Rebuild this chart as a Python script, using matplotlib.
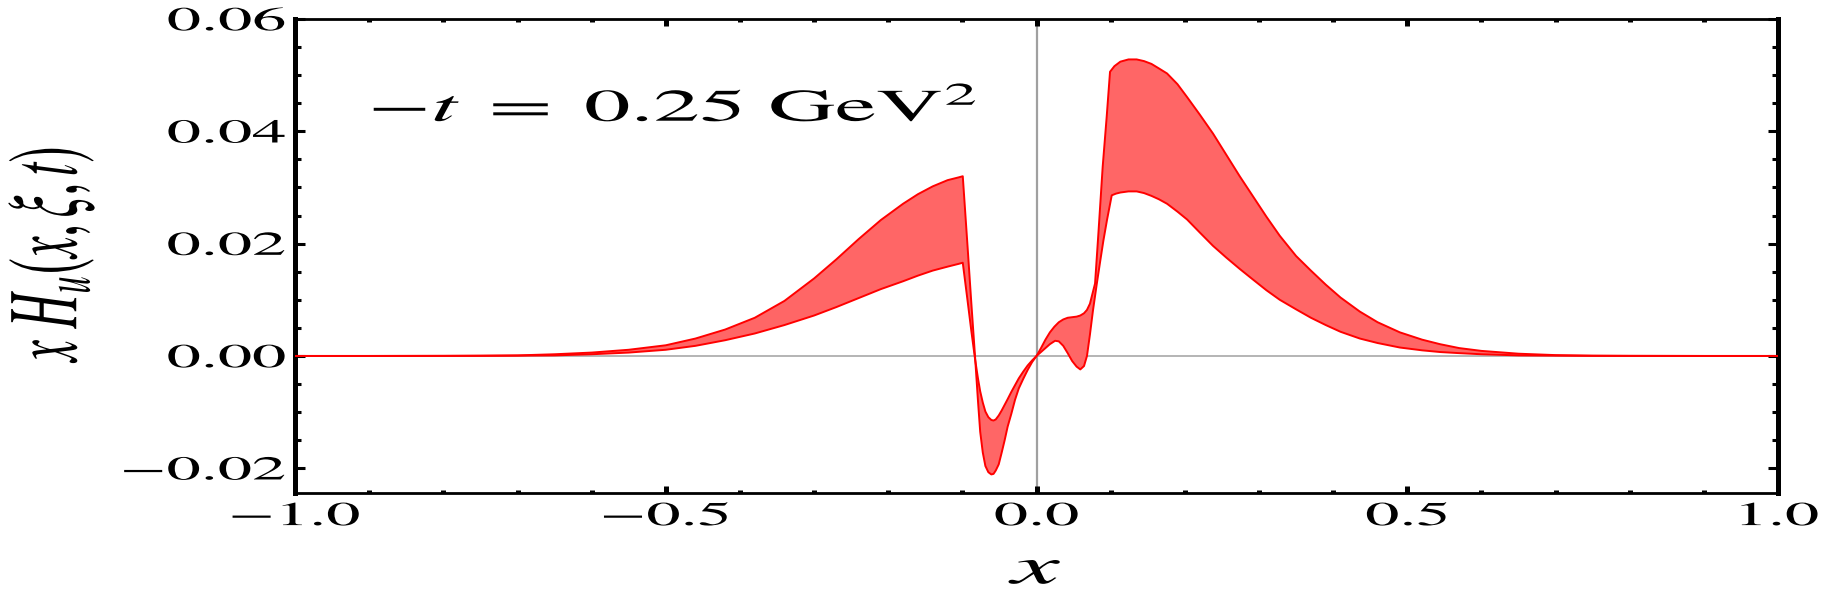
import numpy as np
import matplotlib
matplotlib.use("Agg")
import matplotlib.pyplot as plt
from matplotlib.patheffects import AbstractPathEffect
from matplotlib.transforms import Affine2D
from matplotlib.ticker import MultipleLocator

# band of x*H_u(x, xi, t) at -t = 0.25 GeV^2, its two edges
# edge A: upper edge at x ~ -0.1, deeper trough, upper edge at x ~ +0.13
xa = [-1.0, -0.9, -0.8, -0.75, -0.70, -0.65, -0.60, -0.55, -0.50, -0.46,
      -0.42, -0.38, -0.34, -0.30, -0.27, -0.24, -0.21, -0.18, -0.16, -0.14,
      -0.12, -0.105, -0.0995, -0.093, -0.088, -0.083, -0.079, -0.076, -0.0725, -0.069,
      -0.065, -0.061, -0.058, -0.055, -0.051, -0.047, -0.043, -0.039, -0.034, -0.029,
      -0.024, -0.018, -0.012, -0.006, 0.0, 0.006, 0.012, 0.018, 0.024, 0.030,
      0.036, 0.042, 0.048, 0.054, 0.059, 0.064, 0.068, 0.072, 0.0789, 0.0834,
      0.0892, 0.0946, 0.0991, 0.105, 0.113, 0.124, 0.135, 0.145, 0.155, 0.165,
      0.176, 0.19, 0.203, 0.22, 0.238, 0.256, 0.274, 0.29, 0.31, 0.328,
      0.35, 0.37, 0.39, 0.41, 0.436, 0.46, 0.49, 0.52, 0.544, 0.57,
      0.60, 0.65, 0.70, 0.75, 0.8, 0.9, 1.0]
ya = [0.0, 0.0, 0.00002, 0.00005, 0.0001, 0.0003, 0.0006, 0.0011, 0.0019, 0.0031,
      0.0047, 0.0068, 0.0098, 0.0138, 0.0172, 0.0208, 0.0242, 0.0271, 0.0288, 0.0302,
      0.0313, 0.0318, 0.0320, 0.0194, 0.0095, 0.0, -0.0080, -0.0135, -0.0172, -0.0196,
      -0.0207, -0.0211, -0.0210, -0.0204, -0.0193, -0.0172, -0.0150, -0.0126, -0.0103, -0.0078,
      -0.0058, -0.0041, -0.0025, -0.0011, 0.0, 0.0014, 0.0029, 0.0042, 0.0052, 0.0060,
      0.0065, 0.0068, 0.0069, 0.0070, 0.0072, 0.0076, 0.0082, 0.0093, 0.0129, 0.0218,
      0.0337, 0.0426, 0.0506, 0.0516, 0.0524, 0.0528, 0.0528, 0.0525, 0.0520, 0.0512,
      0.0503, 0.0484, 0.0461, 0.0430, 0.0396, 0.0358, 0.0320, 0.0288, 0.0248, 0.0214,
      0.0178, 0.0152, 0.0127, 0.0104, 0.0079, 0.0060, 0.0042, 0.0029, 0.0021, 0.0014,
      0.0009, 0.0004, 0.00015, 0.00005, 0.00002, 0.0, 0.0]

# edge B: lower edge at x ~ -0.1, shallow trough, small dip near 0.06, lower edge at +0.13
xb = [-1.0, -0.9, -0.8, -0.75, -0.70, -0.65, -0.60, -0.55, -0.50, -0.46,
      -0.42, -0.38, -0.34, -0.30, -0.27, -0.24, -0.21, -0.18, -0.16, -0.14,
      -0.12, -0.105, -0.0995, -0.093, -0.088, -0.083, -0.079, -0.076, -0.0725, -0.069,
      -0.065, -0.061, -0.058, -0.055, -0.051, -0.047, -0.043, -0.039, -0.034, -0.029,
      -0.024, -0.018, -0.012, -0.006, 0.0, 0.006, 0.012, 0.018, 0.025, 0.030,
      0.036, 0.042, 0.048, 0.054, 0.059, 0.064, 0.068, 0.072, 0.076, 0.0812,
      0.0860, 0.0901, 0.0950, 0.1014, 0.107, 0.113, 0.124, 0.135, 0.145, 0.155,
      0.165, 0.176, 0.19, 0.203, 0.22, 0.238, 0.256, 0.274, 0.29, 0.31,
      0.328, 0.35, 0.37, 0.39, 0.41, 0.436, 0.46, 0.49, 0.52, 0.544,
      0.57, 0.60, 0.65, 0.70, 0.75, 0.8, 0.9, 1.0]
yb = [0.0, 0.0, 0.00001, 0.00002, 0.00005, 0.0001, 0.0003, 0.0006, 0.0011, 0.0018,
      0.0028, 0.0040, 0.0055, 0.0072, 0.0087, 0.0103, 0.0119, 0.0133, 0.0143, 0.0152,
      0.0159, 0.0164, 0.0166, 0.0098, 0.0045, -0.0005, -0.0040, -0.0063, -0.0083, -0.0099,
      -0.0109, -0.0114, -0.0115, -0.0113, -0.0106, -0.0097, -0.0087, -0.0077, -0.0064, -0.0052,
      -0.0040, -0.0028, -0.0017, -0.0008, 0.0, 0.0007, 0.0014, 0.0021, 0.0027, 0.0026,
      0.0018, 0.0005, -0.0009, -0.0019, -0.0024, -0.0018, 0.0000, 0.0038, 0.0080, 0.0128,
      0.0170, 0.0205, 0.0242, 0.0286, 0.0289, 0.0291, 0.0293, 0.0293, 0.0290, 0.0285,
      0.0279, 0.0271, 0.0257, 0.0243, 0.0220, 0.0196, 0.0175, 0.0155, 0.0138, 0.0117,
      0.0100, 0.0083, 0.0068, 0.0055, 0.0043, 0.0031, 0.0023, 0.0015, 0.0010, 0.0007,
      0.0005, 0.0003, 0.0001, 0.00005, 0.00002, 0.00001, 0.0, 0.0]

x_ticks = [-1.0, -0.5, 0.0, 0.5, 1.0]
x_ticklabels = ['\u22121.0', '\u22120.5', '0.0', '0.5', '1.0']
y_ticks = [-0.02, 0.0, 0.02, 0.04, 0.06]
y_ticklabels = ['\u22120.02', '0.00', '0.02', '0.04', '0.06']


class Stretch(AbstractPathEffect):
    """Draw text glyphs widened horizontally (the reference is stretched)."""

    def __init__(self, sx=2.05, anchor=0.5, rotated=False):
        super().__init__()
        self.sx = sx
        self.anchor = anchor
        self.rotated = rotated

    def draw_path(self, renderer, gc, tpath, affine, rgbFace=None):
        ext = tpath.get_extents()
        if self.rotated:
            c = ext.y0 + self.anchor * ext.height
            pre = Affine2D().translate(0, -c).scale(1, self.sx).translate(0, c)
        else:
            c = ext.x0 + self.anchor * ext.width
            pre = Affine2D().translate(-c, 0).scale(self.sx, 1).translate(c, 0)
        renderer.draw_path(gc, tpath, pre + affine, rgbFace)


plt.rcParams['font.family'] = ['STIXGeneral', 'DejaVu Serif']
plt.rcParams['mathtext.fontset'] = 'stix'

fig = plt.figure(figsize=(18.27, 5.99), dpi=100)
ax = fig.add_axes([0.1615, 0.177, 0.8117, 0.7913])

ax.axhline(0, color='#a0a0a0', lw=1.1, zorder=1)
ax.axvline(0, color='#a0a0a0', lw=1.6, zorder=1)

# closed band outline: edge A forward, edge B backward
band_x = np.concatenate([xa, xb[::-1]])
band_y = np.concatenate([ya, yb[::-1]])
ax.fill(band_x, band_y, color='#ff6666', lw=0, zorder=2)
ax.plot(xa, ya, color='#ff0000', lw=1.4, zorder=3)
ax.plot(xb, yb, color='#ff0000', lw=1.4, zorder=3)

ax.set_xlim(-1.0, 1.0)
ax.set_ylim(-0.0244, 0.06)
ax.set_xticks(x_ticks, x_ticklabels)
ax.set_yticks(y_ticks, y_ticklabels)
ax.xaxis.set_minor_locator(MultipleLocator(0.1))
ax.yaxis.set_minor_locator(MultipleLocator(0.005))

ax.tick_params(which='both', direction='in', top=True, right=True, labelsize=24)
ax.tick_params(axis='x', which='major', length=5, width=3.6, pad=7)
ax.tick_params(axis='x', which='minor', length=2.5, width=3.6)
ax.tick_params(axis='y', which='major', length=7.5, width=2.2, pad=7)
ax.tick_params(axis='y', which='minor', length=4, width=2.2)

for side in ['left', 'right']:
    ax.spines[side].set_linewidth(3.6)
for side in ['top', 'bottom']:
    ax.spines[side].set_linewidth(2.0)

for lbl in ax.get_xticklabels():
    lbl.set_path_effects([Stretch(anchor=0.5)])
for lbl in ax.get_yticklabels():
    lbl.set_path_effects([Stretch(anchor=1.0)])

ax.set_xlabel(r'$x$', fontsize=38, va='center')
ax.xaxis.set_label_coords(0.5, -0.165)
ax.xaxis.label.set_path_effects([Stretch(anchor=0.5)])

ax.set_ylabel(r'$x\ H_u(x,\xi,t)$', fontsize=35, va='center')
ax.yaxis.set_label_coords(-0.164, 0.505)
ax.yaxis.label.set_path_effects([Stretch(anchor=0.5, rotated=True)])

ax.text(0.2555, 0.785, r'$-t\;=\;0.25\ \mathrm{GeV}^2$', transform=ax.transAxes,
        fontsize=32.5, ha='center', va='baseline',
        path_effects=[Stretch(anchor=0.5)])

fig.savefig('out.png', dpi=100)
